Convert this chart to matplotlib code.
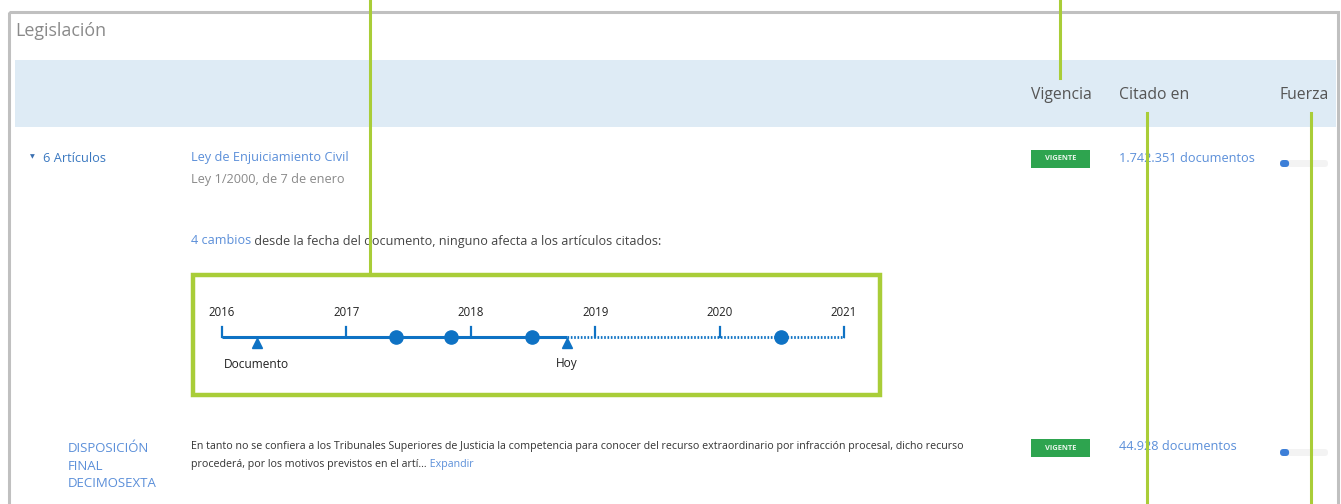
import matplotlib.pyplot as plt
from matplotlib.patches import Rectangle, FancyBboxPatch

# data
columns = ["Vigencia", "Citado en", "Fuerza"]
row_labels = ["6 Artículos", "DISPOSICIÓN\nFINAL\nDECIMOSEXTA"]
citations = ["1.742.351 documentos", "44.928 documentos"]
status = ["VIGENTE", "VIGENTE"]
strength = [0.19, 0.19]
years = [2016, 2017, 2018, 2019, 2020, 2021]
change_dates = [2017.40, 2017.84, 2018.49, 2020.49]
doc_date = 2016.28
today = 2018.77

W, H = 1341, 504
BLUE = "#5b8fd9"
TL = "#0e72c4"
LIME = "#a9cd38"
FONT = ["Open Sans", "DejaVu Sans"]

plt.rcParams["font.family"] = FONT
fig = plt.figure(figsize=(W / 100, H / 100), dpi=100)
ax = fig.add_axes([0, 0, 1, 1])
ax.set_xlim(0, W)
ax.set_ylim(H, 0)
ax.axis("off")

# outer frame and header band
ax.add_patch(Rectangle((9, 11.5), 1329, 600, fill=False, ec="#c0c0c0", lw=2.2))
ax.add_patch(Rectangle((15, 60), 1321, 67, fc="#deebf5", ec="none"))
ax.text(15, 31, "Legislación", fontsize=12.9, color="#8a8a8a", va="center")
for x, name in zip([1031, 1119, 1280], columns):
    ax.text(x, 95, name, fontsize=11.3, color="#555555", va="center")

# first row
ax.text(30, 157, "▼", fontsize=4.5, color="#3a6fb0", va="center")
ax.text(43, 158, row_labels[0], fontsize=9.2, color="#3a78c0", va="center")
ax.text(191, 158, "Ley de Enjuiciamiento Civil", fontsize=9.2, color=BLUE, va="center")
ax.text(191, 179, "Ley 1/2000, de 7 de enero", fontsize=9.2, color="#8a8a8a", va="center")
t = ax.text(191, 241, "4 cambios", fontsize=9.1, color=BLUE, va="center")
ax.annotate(" desde la fecha del documento, ninguno afecta a los artículos citados:",
            xycoords=t, xy=(1, 0.5), va="center", fontsize=9.1, color="#444444")

# second row
ax.text(68, 466, row_labels[1], fontsize=9.5, color=BLUE, va="center", linespacing=1.48)
ax.text(191, 446, "En tanto no se confiera a los Tribunales Superiores de Justicia la competencia "
        "para conocer del recurso extraordinario por infracción procesal, dicho recurso",
        fontsize=7.7, color="#333333", va="center")
t2 = ax.text(191, 464, "procederá, por los motivos previstos en el artí...", fontsize=7.7,
             color="#333333", va="center")
ax.annotate(" Expandir", xycoords=t2, xy=(1, 0.5), va="center", fontsize=7.7, color=BLUE)

for y, st, cit, s in zip([159, 448], status, citations, strength):
    ax.add_patch(Rectangle((1031, y - 9), 59, 18, fc="#2ea44f", ec="none"))
    ax.text(1060.5, y, st, fontsize=5.4, color="#e8f5ea", ha="center", va="center",
            fontweight="bold")
    ax.text(1119, y - 1, cit, fontsize=9.2, color=BLUE, va="center")
    ax.add_patch(FancyBboxPatch((1280, y + 1), 48, 7, boxstyle="round,pad=0,rounding_size=3.5",
                                fc="#f3f3f3", ec="none"))
    ax.add_patch(FancyBboxPatch((1280, y + 1), 48 * s, 7, boxstyle="round,pad=0,rounding_size=3.5",
                                fc="#3d7fd8", ec="none"))

# highlight box and callout lines
ax.add_patch(Rectangle((193, 275), 687, 120, fill=False, ec=LIME, lw=3.2, zorder=5))
ax.plot([370, 370], [0, 275], color=LIME, lw=2.2, zorder=6)
ax.plot([1060, 1060], [0, 78], color=LIME, lw=2.2, zorder=6)
ax.plot([1147, 1147], [113, H], color=LIME, lw=2.2, zorder=6)
ax.plot([1311, 1311], [113, H], color=LIME, lw=2.2, zorder=6)

# timeline in year units
y0, y1 = 300, 378
tx = fig.add_axes([222 / W, 1 - y1 / H, (844 - 222) / W, (y1 - y0) / H])
tx.set_xlim(years[0], years[-1])
tx.set_ylim(y1, y0)
tx.axis("off")
tx.plot([years[0], today], [337, 337], color=TL, lw=2.2, solid_capstyle="butt", clip_on=False)
tx.plot([today, years[-1]], [337, 337], color=TL, lw=2, ls=(0, (0.6, 0.6)), clip_on=False)
for yr in years:
    tx.plot([yr, yr], [327, 337], color=TL, lw=1.6, clip_on=False)
    tx.text(yr, 312, str(yr), fontsize=8.3, ha="center", va="center", color="#222222")
tx.plot(change_dates, [337] * len(change_dates), "o", color=TL, ms=9.5, clip_on=False)
tx.plot([doc_date, today], [343, 343], "^", color=TL, ms=7.5, clip_on=False)
tx.text(doc_date, 364, "Documento", fontsize=8.6, ha="center", va="center", color="#222222")
tx.text(today, 364, "Hoy", fontsize=8.6, ha="center", va="center", color="#222222")

fig.savefig("out.png", dpi=100)
